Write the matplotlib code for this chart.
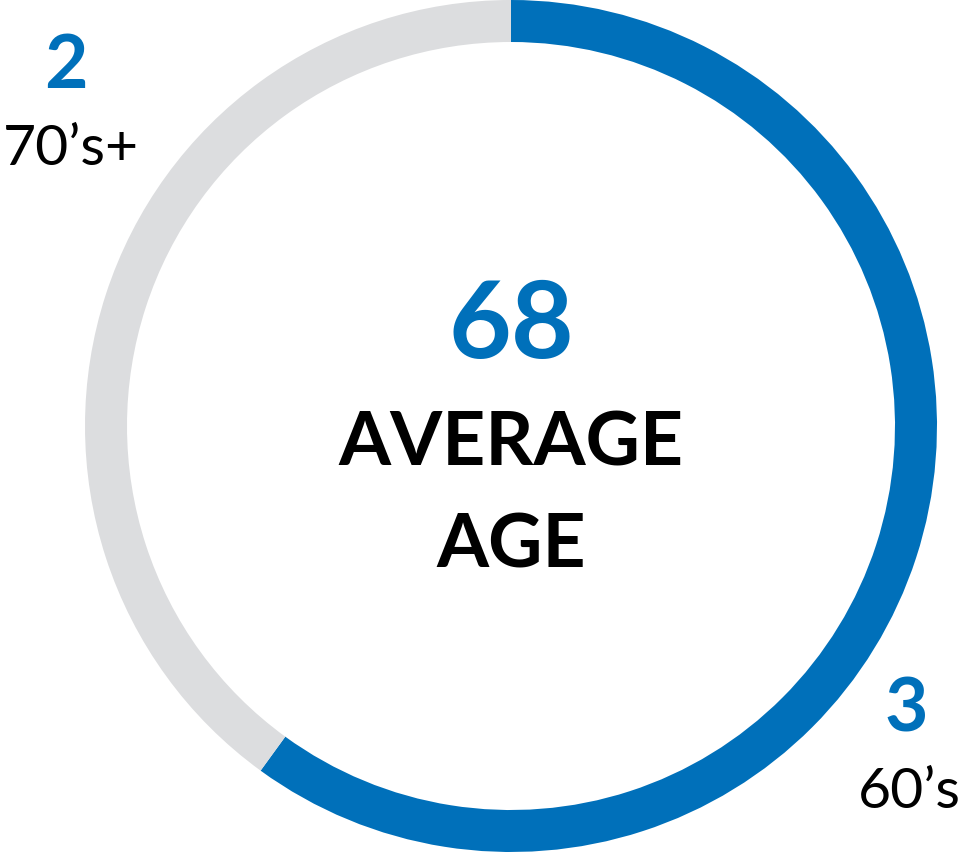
import matplotlib.pyplot as plt

# Data
segment_values = [3, 2]
segment_labels = ["60\u2019s", "70\u2019s+"]
segment_colors = ['#0070ba', '#dcdddf']
average_age = 68

blue = '#0070ba'
W, H = 964, 853

fig = plt.figure(figsize=(W / 100, H / 100), dpi=100, facecolor='white')
ax = fig.add_axes([0, 0, 1, 1])

cx, cy = 511, H - 427
r_out, ring_w = 426, 42

ax.pie(segment_values, colors=segment_colors, startangle=90, counterclock=False,
       center=(cx, cy), radius=r_out, frame=True,
       wedgeprops=dict(width=ring_w, edgecolor='none', linewidth=0))
ax.set_xlim(0, W)
ax.set_ylim(0, H)
ax.set_aspect('equal')
ax.axis('off')

font = 'Lato'

def txt(x, y_img, s, size, color, weight, ha='center'):
    ax.text(x, H - y_img, s, fontsize=size, color=color, weight=weight,
            ha=ha, va='baseline', fontfamily=font)

# centre text
txt(511, 358, str(average_age), 78, blue, 'bold')
txt(511, 466, 'AVERAGE', 54, 'black', 'bold')
txt(511, 567, 'AGE', 54, 'black', 'bold')

# segment annotations
txt(66, 88, str(segment_values[1]), 54, blue, 'bold')
txt(3, 165, segment_labels[1], 41, 'black', 'normal', ha='left')
txt(906, 732, str(segment_values[0]), 54, blue, 'bold')
txt(961, 808, segment_labels[0], 41, 'black', 'normal', ha='right')

plt.savefig('out.png', dpi=100, facecolor='white')
plt.close()
